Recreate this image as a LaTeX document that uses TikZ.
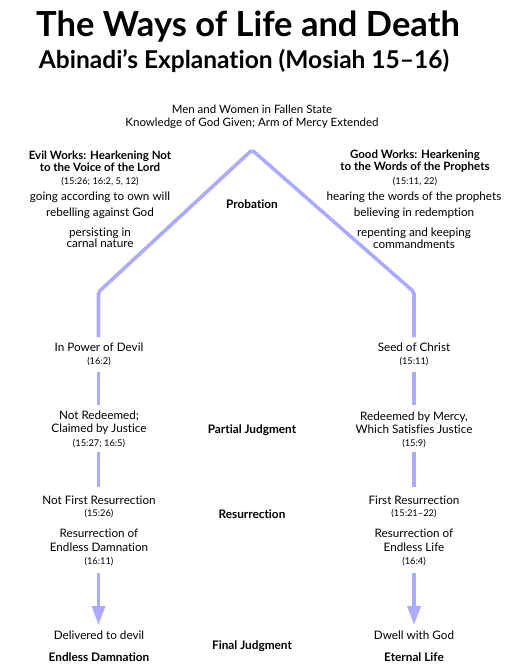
\documentclass[tikz,border=0pt]{standalone}
\usepackage{fontspec}
\setmainfont{Lato}[Ligatures={NoCommon,NoRare}]
\usetikzlibrary{arrows.meta}
\definecolor{pathblue}{RGB}{172,172,255}
\begin{document}
\begin{tikzpicture}[x=1pt,y=-1pt,
  txt/.style={align=center,font=\fontsize{11.7}{13}\selectfont,inner sep=0pt},
  refs/.style={align=center,font=\fontsize{9.3}{10}\selectfont,inner sep=0pt},
  lbl/.style={align=center,font=\bfseries\fontsize{11.8}{12}\selectfont,inner sep=0pt},
  way/.style={draw=pathblue,line width=3.6pt},
  wayarrow/.style={way,-{Triangle[length=19pt,width=13pt]}},
]
\useasboundingbox (0,0) rectangle (514,668);

% titles
\node[inner sep=0pt,font=\bfseries\fontsize{34.5}{38}\selectfont] (title) at (248,27) {The Ways of Life and Death};
\node[inner sep=0pt,font=\bfseries\fontsize{24.5}{28}\selectfont] (subtitle) at (244,61) {Abinadi’s Explanation (Mosiah 15–16)};

\node[txt,font=\fontsize{11.5}{13}\selectfont] (top) at (252,116.5) {Men and Women in Fallen State\\Knowledge of God Given; Arm of Mercy Extended};

% path
\coordinate (lb) at (98.5,337);
\coordinate (lc) at (98.5,292);
\coordinate (apex) at (252,150);
\coordinate (rc) at (414,292);
\coordinate (rb) at (414,337);
\draw[way,rounded corners=2pt] (lb) -- (lc) -- (apex) -- (rc) -- (rb);

% middle labels
\node[lbl] (prob) at (252,204) {Probation};
\node[lbl] (partial) at (252,430) {Partial Judgment};
\node[lbl] (resur) at (252,514) {Resurrection};
\node[lbl] (final) at (252,646) {Final Judgment};

% left column
\node[lbl,font=\bfseries\fontsize{11.5}{12}\selectfont] (lhead) at (100,161) {Evil Works: Hearkening Not\\to the Voice of the Lord};
\node[refs] (lref) at (100,182) {(15:26; 16:2, 5, 12)};
\node[txt] (l1) at (100,197.5) {going according to own will};
\node[txt] (l2) at (100,213.5) {rebelling against God};
\node[txt,font=\fontsize{11.7}{11.5}\selectfont] (l3) at (100,238) {persisting in\\carnal nature};

\node[txt] (lpow) at (99,347.5) {In Power of Devil};
\node[refs] (lpowr) at (99,361.5) {(16:2)};
\node[txt,font=\fontsize{11.7}{12.5}\selectfont] (lnot) at (99,422.5) {Not Redeemed;\\Claimed by Justice};
\node[refs] (lnotr) at (99,443.5) {(15:27; 16:5)};
\node[txt] (lfirst) at (99,500) {Not First Resurrection};
\node[refs] (lfirstr) at (99,514) {(15:26)};
\node[txt,font=\fontsize{11.7}{13.5}\selectfont] (lres) at (99,540.5) {Resurrection of\\Endless Damnation};
\node[refs] (lresr) at (99,561.5) {(16:11)};
\node[txt] (ldel) at (99,635.5) {Delivered to devil};
\node[lbl] (lend) at (99,657.5) {Endless Damnation};

\coordinate (l2a) at (98.5,372); \coordinate (l2b) at (98.5,405);
\coordinate (l3a) at (98.5,452); \coordinate (l3b) at (98.5,487);
\coordinate (l4a) at (98.5,573); \coordinate (l4b) at (98.5,625);
\draw[way] (l2a) -- (l2b);
\draw[way] (l3a) -- (l3b);
\draw[wayarrow] (l4a) -- (l4b);

% right column
\node[lbl,font=\bfseries\fontsize{11.5}{12}\selectfont] (rhead) at (415,161) {Good Works: Hearkening\\to the Words of the Prophets};
\node[refs] (rref) at (415,182) {(15:11, 22)};
\node[txt] (r1) at (414,197.5) {hearing the words of the prophets};
\node[txt] (r2) at (414,213.5) {believing in redemption};
\node[txt,font=\fontsize{11.7}{11.5}\selectfont] (r3) at (414,238) {repenting and keeping\\commandments};

\node[txt] (rseed) at (414,347.5) {Seed of Christ};
\node[refs] (rseedr) at (414,361.5) {(15:11)};
\node[txt,font=\fontsize{11.7}{12.5}\selectfont] (rred) at (414,422.5) {Redeemed by Mercy,\\Which Satisfies Justice};
\node[refs] (rredr) at (414,443.5) {(15:9)};
\node[txt] (rfirst) at (414,500) {First Resurrection};
\node[refs] (rfirstr) at (414,514) {(15:21–22)};
\node[txt,font=\fontsize{11.7}{13.5}\selectfont] (rres) at (414,540.5) {Resurrection of\\Endless Life};
\node[refs] (rresr) at (414,561.5) {(16:4)};
\node[txt] (rdwell) at (414,635.5) {Dwell with God};
\node[lbl] (rend) at (414,657.5) {Eternal Life};

\coordinate (r2a) at (414,372); \coordinate (r2b) at (414,405);
\coordinate (r3a) at (414,452); \coordinate (r3b) at (414,487);
\coordinate (r4a) at (414,573); \coordinate (r4b) at (414,625);
\draw[way] (r2a) -- (r2b);
\draw[way] (r3a) -- (r3b);
\draw[wayarrow] (r4a) -- (r4b);
\end{tikzpicture}
\end{document}
